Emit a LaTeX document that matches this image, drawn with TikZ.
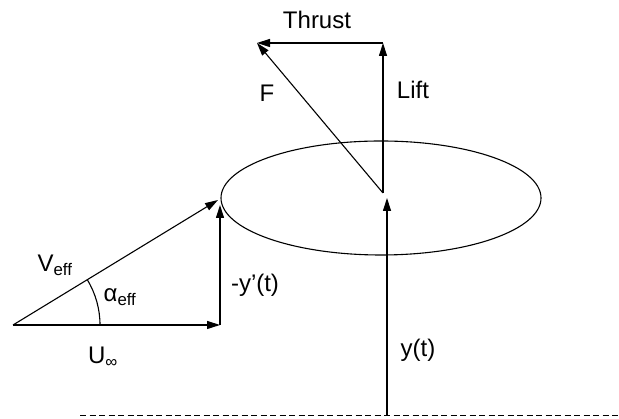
\documentclass[tikz,border=0pt]{standalone}
\usepackage{fontspec}
\setmainfont{Liberation Sans}
\usetikzlibrary{arrows.meta}
\begin{document}
\begin{tikzpicture}[x=1pt,y=1pt,
  vec/.style={line width=1.1pt,-{Triangle[length=13pt,width=8pt]}},
  plain/.style={line width=1.1pt},
  lbl/.style={inner sep=0pt,font=\fontsize{24}{28}\selectfont},
  sub/.style={}]
\useasboundingbox (0,0) rectangle (619,419);
% points
\coordinate (O) at (13,94);
\coordinate (U) at (220,94);
\coordinate (Y) at (220,214);
\coordinate (V) at (218,219);
\coordinate (B) at (387,4);
\coordinate (Bt) at (387,221);
\coordinate (C) at (383,226);
\coordinate (L) at (383,376);
\coordinate (T) at (257,376);
\coordinate (D0) at (80,4);
\coordinate (D1) at (619,4);
% ellipse
\draw[plain] (381,221) ellipse [x radius=160, y radius=57];
% ground line
\draw[line width=0.8pt, dash pattern=on 6pt off 3.5pt] (D0) -- (D1);
% vectors
\draw[vec] (O) -- (U);
\draw[vec] (U) -- (Y);
\draw[vec] (O) -- (V);
\draw[vec] (B) -- (Bt);
\draw[vec] (C) -- (L);
\draw[vec] (L) -- (T);
\draw[vec] (C) -- (T);
% angle arc
\draw[plain] (100,94) arc[start angle=0,end angle=31.4,radius=87];
% labels
\node[lbl] (lV) at (55,154) {V\textsubscript{eff}};
\node[lbl] (la) at (120,122) {α\textsubscript{eff}};
\node[lbl] (ly) at (255,134) {-y’(t)};
\node[lbl] (lU) at (103,62) {U\textsubscript{∞}};
\node[lbl] (lT) at (317,399) {Thrust};
\node[lbl] (lF) at (267,326) {F};
\node[lbl] (lL) at (413,329) {Lift};
\node[lbl] (lyt) at (418,69) {y(t)};
\end{tikzpicture}
\end{document}
